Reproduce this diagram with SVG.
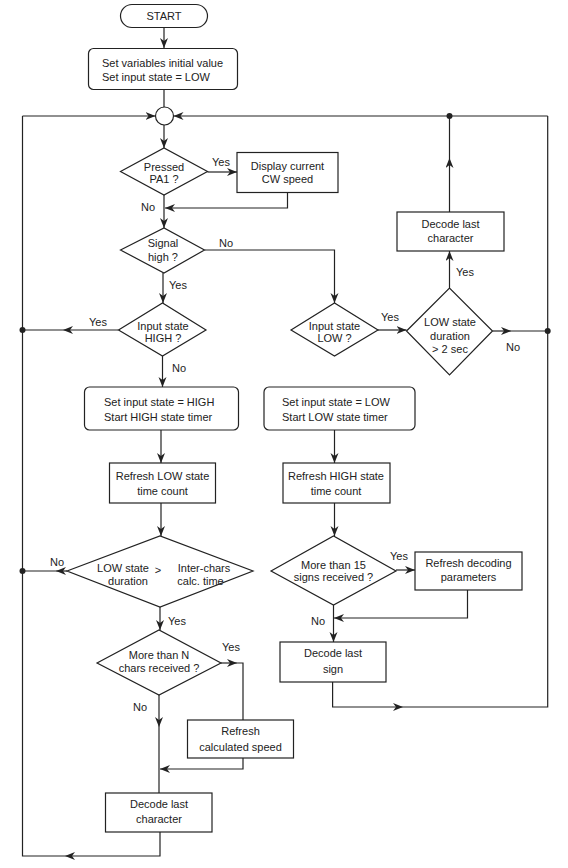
<svg xmlns="http://www.w3.org/2000/svg" width="568" height="868" viewBox="0 0 568 868">
<style>
.n{fill:#fff;stroke:#222;stroke-width:1.2}
.c{fill:none;stroke:#222;stroke-width:1.2}
.a{fill:none;stroke:#222;stroke-width:1.2;marker-end:url(#ah)}
text{font-family:"Liberation Sans",Arial,sans-serif;font-size:11px;fill:#222}
.m{text-anchor:middle}
.d{fill:#222}
</style>
<defs>
<marker id="ah" markerUnits="userSpaceOnUse" markerWidth="11" markerHeight="9" refX="10" refY="4" orient="auto" viewBox="0 0 11 9">
<path d="M0,0 L10,4 L0,8 L3,4 z" fill="#222"/>
</marker>
</defs>
<rect width="568" height="868" fill="#fff"/>
<g id="connectors">
<path class="a" d="M164,27 V48"/>
<path class="c" d="M164,90 V107"/>
<path class="a" d="M164,125 V148"/>
<path class="a" d="M207.5,172 H237"/>
<path class="a" d="M287.5,192.5 V208 H165"/>
<path class="a" d="M164,195 V228"/>
<path class="a" d="M204.5,250 H334.5 V303"/>
<path class="a" d="M163,273 V303"/>
<path class="a" d="M118.5,330 H63"/>
<path class="c" d="M63,330 H22.5"/>
<path class="a" d="M162.5,356 V387"/>
<path class="a" d="M378,330 H406.5"/>
<path class="a" d="M449.5,288 V251"/>
<path class="a" d="M449.5,212 V158"/>
<path class="c" d="M449.5,158 V116"/>
<path class="a" d="M547.7,116 H173.5"/>
<path class="a" d="M22.5,116 H155.5"/>
<path class="a" d="M492.5,331 H511"/>
<path class="c" d="M511,331 H547.7"/>
<path class="a" d="M334.5,430 V463"/>
<path class="a" d="M161,430 V463"/>
<path class="a" d="M161,503 V536"/>
<path class="a" d="M67,571 H56"/>
<path class="c" d="M56,571 H22.5"/>
<path class="a" d="M160,607 V630"/>
<path class="a" d="M334.5,503 V536"/>
<path class="a" d="M396,570 H415"/>
<path class="a" d="M467.5,590 V618 H334"/>
<path class="a" d="M333.5,605 V642"/>
<path class="a" d="M332.6,682 V707 H403"/>
<path class="c" d="M403,707 H547.7 V116"/>
<path class="a" d="M221,663 H237"/>
<path class="c" d="M237,663 H243 V720"/>
<path class="a" d="M159,695 V727"/>
<path class="c" d="M159,727 V793"/>
<path class="a" d="M243,758 V769 H160"/>
<path class="a" d="M160,832 V856 H65"/>
<path class="c" d="M65,856 H22.5 V116"/>
<circle class="d" cx="449.5" cy="116" r="3"/>
<circle class="d" cx="22.5" cy="330" r="3"/>
<circle class="d" cx="547.7" cy="331" r="3"/>
<circle class="d" cx="22.5" cy="571" r="3"/>
</g>
<g id="labels">
<text class="m" x="221" y="166">Yes</text>
<text class="m" x="148" y="211">No</text>
<text class="m" x="226" y="247">No</text>
<text class="m" x="178" y="289">Yes</text>
<text class="m" x="98" y="326">Yes</text>
<text class="m" x="179" y="372">No</text>
<text class="m" x="390" y="321">Yes</text>
<text class="m" x="465" y="276">Yes</text>
<text class="m" x="513" y="351">No</text>
<text class="m" x="57" y="566">No</text>
<text class="m" x="177" y="625">Yes</text>
<text class="m" x="399" y="560">Yes</text>
<text class="m" x="318" y="625">No</text>
<text class="m" x="231" y="651">Yes</text>
<text class="m" x="140" y="711">No</text>
</g>
<g id="start">
<rect class="n" x="120.5" y="4.5" width="87" height="23" rx="11.5"/>
<text class="m" x="164" y="20">START</text>
</g>
<g id="init">
<rect class="n" x="88.5" y="48.5" width="149" height="41" rx="5"/>
<text x="102" y="67">Set variables initial value</text>
<text x="102" y="81">Set input state = LOW</text>
</g>
<g id="junction">
<circle class="n" cx="164.5" cy="116" r="9"/>
</g>
<g id="pressed">
<polygon class="n" points="120.5,171.5 164,148 207.5,171.5 164,195"/>
<text class="m" x="164" y="171">Pressed</text>
<text class="m" x="164" y="183">PA1 ?</text>
</g>
<g id="display">
<rect class="n" x="237" y="152.5" width="101" height="40"/>
<text class="m" x="287.5" y="170">Display current</text>
<text class="m" x="287.5" y="183">CW speed</text>
</g>
<g id="signal">
<polygon class="n" points="120.5,250 164,228 204.5,250 164,273"/>
<text class="m" x="163" y="247">Signal</text>
<text class="m" x="163" y="261">high ?</text>
</g>
<g id="inhigh">
<polygon class="n" points="118.5,330 162.5,303 206,330 162.5,356"/>
<text class="m" x="163" y="330">Input state</text>
<text class="m" x="163" y="342">HIGH ?</text>
</g>
<g id="sethigh">
<rect class="n" x="84.5" y="387" width="154" height="43" rx="5"/>
<text x="104" y="406">Set input state = HIGH</text>
<text x="104" y="421">Start HIGH state timer</text>
</g>
<g id="inlow">
<polygon class="n" points="291,330 334.5,303 378,330 334.5,356"/>
<text class="m" x="334.5" y="330">Input state</text>
<text class="m" x="334.5" y="342">LOW ?</text>
</g>
<g id="lowdur">
<polygon class="n" points="406.5,331 449.5,288 492.5,331 449.5,375"/>
<text class="m" x="450" y="326">LOW state</text>
<text class="m" x="450" y="340">duration</text>
<text class="m" x="450" y="353">&gt; 2 sec</text>
</g>
<g id="decodechar1">
<rect class="n" x="397" y="212" width="107" height="39"/>
<text class="m" x="450.5" y="228">Decode last</text>
<text class="m" x="450.5" y="242">character</text>
</g>
<g id="setlow">
<rect class="n" x="264" y="387" width="151" height="43" rx="5"/>
<text x="282" y="406">Set input state = LOW</text>
<text x="282" y="421">Start LOW state timer</text>
</g>
<g id="reflow">
<rect class="n" x="109.5" y="463" width="106" height="40"/>
<text class="m" x="162.5" y="480">Refresh LOW state</text>
<text class="m" x="162.5" y="495">time count</text>
</g>
<g id="interchars">
<polygon class="n" points="67,571 160,536 253,571 160,607"/>
<text class="m" x="123" y="572">LOW state</text>
<text class="m" x="128" y="585">duration</text>
<text class="m" x="158" y="574">&gt;</text>
<text class="m" x="204" y="572">Inter-chars</text>
<text class="m" x="200.5" y="585">calc. time</text>
</g>
<g id="refhigh">
<rect class="n" x="283" y="463" width="107" height="40"/>
<text class="m" x="336" y="480">Refresh HIGH state</text>
<text class="m" x="336" y="495">time count</text>
</g>
<g id="signs15">
<polygon class="n" points="271,571 333.5,536 396,571 333.5,605"/>
<text class="m" x="333.5" y="569">More than 15</text>
<text class="m" x="333.5" y="581">signs received ?</text>
</g>
<g id="refdecode">
<rect class="n" x="415" y="552" width="107" height="38"/>
<text class="m" x="468.5" y="567">Refresh decoding</text>
<text class="m" x="468.5" y="581">parameters</text>
</g>
<g id="decodesign">
<rect class="n" x="280" y="642" width="106" height="40"/>
<text class="m" x="333" y="657">Decode last</text>
<text class="m" x="333" y="673">sign</text>
</g>
<g id="nchars">
<polygon class="n" points="97,663 159,630 221,663 159,695"/>
<text class="m" x="159" y="659">More than N</text>
<text class="m" x="159" y="672">chars received ?</text>
</g>
<g id="refspeed">
<rect class="n" x="187.5" y="720" width="106" height="38"/>
<text class="m" x="240.5" y="735">Refresh</text>
<text class="m" x="240.5" y="751">calculated speed</text>
</g>
<g id="decodechar2">
<rect class="n" x="105.5" y="793" width="106.5" height="39"/>
<text class="m" x="159" y="808">Decode last</text>
<text class="m" x="159" y="823">character</text>
</g>
</svg>
